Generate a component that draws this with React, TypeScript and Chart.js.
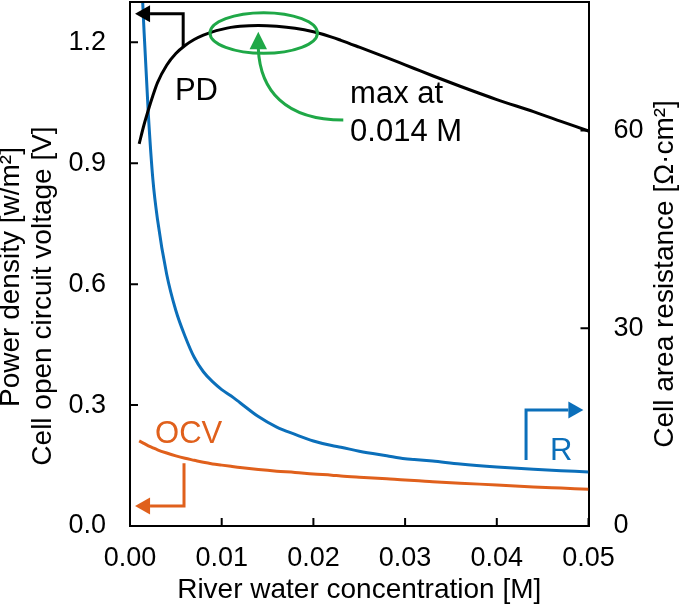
import React, { useEffect, useRef } from "react";
import { Chart, registerables } from "chart.js";

Chart.register(...registerables);

// ---- data ----
const concentration = [
  0.001, 0.0015, 0.002, 0.0025, 0.003, 0.004, 0.005, 0.006, 0.007, 0.008,
  0.009, 0.01, 0.011, 0.012, 0.014, 0.016, 0.018, 0.02, 0.022, 0.023,
  0.025, 0.028, 0.03, 0.031, 0.033, 0.036, 0.04, 0.044, 0.047, 0.05,
];
const powerDensity = [
  0.948, 0.993, 1.032, 1.068, 1.1, 1.143, 1.172, 1.192, 1.207, 1.218,
  1.226, 1.232, 1.237, 1.24, 1.242, 1.24, 1.235, 1.226, 1.213, 1.205,
  1.188, 1.162, 1.144, 1.135, 1.117, 1.091, 1.058, 1.028, 1.004, 0.98,
];
const resistance = [
  91, 76, 62.5, 52.5, 46.5, 38.2, 32.7, 28.8, 25.6, 23.4,
  21.9, 20.7, 19.75, 18.7, 16.6, 15.0, 13.9, 12.9, 12.2, 11.95,
  11.35, 10.65, 10.2, 10.1, 9.85, 9.4, 8.95, 8.6, 8.4, 8.2,
];
const openCircuitVoltage = [
  0.211, 0.205, 0.199, 0.194, 0.189, 0.181, 0.174, 0.168, 0.163, 0.158,
  0.154, 0.151, 0.148, 0.145, 0.14, 0.136, 0.133, 0.129, 0.126, 0.124,
  0.121, 0.117, 0.114, 0.113, 0.11, 0.106, 0.102, 0.097, 0.094, 0.091,
];
const xTicks = [0, 0.01, 0.02, 0.03, 0.04, 0.05];
const leftTicks = [0, 0.3, 0.6, 0.9, 1.2];
const rightTicks = [0, 30, 60];

const xTitle = "River water concentration [M]";
const leftTitles = ["Power density [w/m²]", "Cell open circuit voltage [V]"];
const rightTitle = "Cell area resistance [Ω·cm²]";

// ---- styles ----
const FONT = "'Liberation Sans', Arial, Helvetica, sans-serif";
const BLACK = "#000000";
const BLUE = "#0b6fba";
const ORANGE = "#e0601c";
const GREEN = "#1fa847";

// annotation anchors in data coordinates
const pdNote = { label: "PD", labelX: 0.0049, labelY: 1.057, barX: 0.0058, barFrom: 1.189, barTo: 1.271, tipX: 0.00055 };
const ocvNote = { label: "OCV", labelX: 0.00273, labelY: 0.2067, barX: 0.00589, barFrom: 0.1555, barTo: 0.0496, tipX: 0.00055 };
const rNote = { label: "R", labelX: 0.0458, labelY: 10.0, barX: 0.04319, barFrom: 10.0, barTo: 17.6, tipX: 0.04944 };
const maxNote = {
  lines: ["max at", "0.014 M"],
  textX: 0.024, line1Y: 1.049, line2Y: 0.956,
  ellipseX: 0.01458, ellipseY: 1.223, ellipseRx: 0.00586, ellipseRy: 0.0504,
  tipX: 0.01399, tipY: 1.226, baseY: 1.185,
  c1X: 0.01418, c1Y: 1.081, c2X: 0.0169, c2Y: 1.007, endX: 0.02326, endY: 1.007,
};

function arrowBracket(
  ctx: CanvasRenderingContext2D, color: string,
  sx: number, sy: number, cx: number, cy: number, tx: number,
  head = 15, half = 8.5
) {
  const dir = Math.sign(tx - cx);
  ctx.strokeStyle = color;
  ctx.fillStyle = color;
  ctx.lineWidth = 3;
  ctx.lineJoin = "miter";
  ctx.beginPath();
  ctx.moveTo(sx, sy);
  ctx.lineTo(cx, cy);
  ctx.lineTo(tx - dir * head, cy);
  ctx.stroke();
  ctx.beginPath();
  ctx.moveTo(tx, cy);
  ctx.lineTo(tx - dir * head, cy - half);
  ctx.lineTo(tx - dir * head, cy + half);
  ctx.closePath();
  ctx.fill();
}

const decorPlugin = {
  id: "decor",
  afterDraw(chart: any) {
    const ctx: CanvasRenderingContext2D = chart.ctx;
    const xs = chart.scales.x;
    const yl = chart.scales.yL;
    const yr = chart.scales.yR;
    const { left, right, top, bottom } = chart.chartArea;
    const px = (v: number) => xs.getPixelForValue(v);
    const pl = (v: number) => yl.getPixelForValue(v);
    const pr = (v: number) => yr.getPixelForValue(v);
    ctx.save();

    // frame top
    ctx.strokeStyle = BLACK;
    ctx.lineWidth = 2;
    ctx.beginPath();
    ctx.moveTo(left - 1, top);
    ctx.lineTo(right + 1, top);
    ctx.stroke();

    // inward tick marks
    const TL = 8;
    ctx.beginPath();
    xTicks.forEach((v) => {
      const p = px(v);
      ctx.moveTo(p, bottom);
      ctx.lineTo(p, bottom - TL);
    });
    leftTicks.forEach((v) => {
      const p = pl(v);
      ctx.moveTo(left, p);
      ctx.lineTo(left + TL, p);
    });
    rightTicks.forEach((v) => {
      const p = pr(v);
      ctx.moveTo(right, p);
      ctx.lineTo(right - TL, p);
    });
    ctx.stroke();

    // labels
    ctx.font = `31px ${FONT}`;
    ctx.textBaseline = "alphabetic";
    ctx.textAlign = "left";

    // PD
    arrowBracket(ctx, BLACK, px(pdNote.barX), pl(pdNote.barFrom), px(pdNote.barX), pl(pdNote.barTo), px(pdNote.tipX));
    ctx.fillStyle = BLACK;
    ctx.fillText(pdNote.label, px(pdNote.labelX), pl(pdNote.labelY));

    // OCV
    arrowBracket(ctx, ORANGE, px(ocvNote.barX), pl(ocvNote.barFrom), px(ocvNote.barX), pl(ocvNote.barTo), px(ocvNote.tipX));
    ctx.fillStyle = ORANGE;
    ctx.fillText(ocvNote.label, px(ocvNote.labelX), pl(ocvNote.labelY));

    // R
    arrowBracket(ctx, BLUE, px(rNote.barX), pr(rNote.barFrom), px(rNote.barX), pr(rNote.barTo), px(rNote.tipX));
    ctx.fillStyle = BLUE;
    ctx.fillText(rNote.label, px(rNote.labelX), pr(rNote.labelY));

    // max annotation
    ctx.fillStyle = BLACK;
    ctx.fillText(maxNote.lines[0], px(maxNote.textX), pl(maxNote.line1Y));
    ctx.fillText(maxNote.lines[1], px(maxNote.textX), pl(maxNote.line2Y));

    ctx.strokeStyle = GREEN;
    ctx.fillStyle = GREEN;
    ctx.lineWidth = 3;
    const ex = px(maxNote.ellipseX);
    const ey = pl(maxNote.ellipseY);
    const erx = px(maxNote.ellipseX + maxNote.ellipseRx) - ex;
    const ery = ey - pl(maxNote.ellipseY + maxNote.ellipseRy);
    ctx.beginPath();
    ctx.ellipse(ex, ey, erx, ery, 0, 0, Math.PI * 2);
    ctx.stroke();

    const bx = px(maxNote.tipX);
    const by = pl(maxNote.baseY);
    ctx.beginPath();
    ctx.moveTo(bx, by);
    ctx.bezierCurveTo(px(maxNote.c1X), pl(maxNote.c1Y), px(maxNote.c2X), pl(maxNote.c2Y), px(maxNote.endX), pl(maxNote.endY));
    ctx.stroke();
    const ty = pl(maxNote.tipY);
    ctx.beginPath();
    ctx.moveTo(bx, ty);
    ctx.lineTo(bx - 8.7, by + 1);
    ctx.lineTo(bx + 8.7, by + 1);
    ctx.closePath();
    ctx.fill();

    // y-axis titles (rotated, reading bottom to top)
    ctx.fillStyle = BLACK;
    ctx.font = `28px ${FONT}`;
    ctx.textAlign = "center";
    ctx.textBaseline = "middle";
    const drawRot = (t: string, cx: number, cy: number) => {
      ctx.save();
      ctx.translate(cx, cy);
      ctx.rotate(-Math.PI / 2);
      ctx.fillText(t, 0, 0);
      ctx.restore();
    };
    drawRot(leftTitles[0], 11, 277);
    drawRot(leftTitles[1], 43, 296);
    drawRot(rightTitle, 665.5, 274);

    ctx.restore();
  },
};

const noPad = (s: any) => {
  s.paddingTop = 0;
  s.paddingBottom = 0;
  s.paddingLeft = 0;
  s.paddingRight = 0;
};

export default function App() {
  const canvasRef = useRef<HTMLCanvasElement | null>(null);

  useEffect(() => {
    const canvas = canvasRef.current;
    if (!canvas) return;
    const tickFont = { size: 27, family: FONT, lineHeight: 1.2 };
    const border = { display: true, color: BLACK, width: 2 };
    const chart = new Chart(canvas, {
      type: "line",
      data: {
        datasets: [
          {
            label: "PD",
            data: concentration.map((c, i) => ({ x: c, y: powerDensity[i] })),
            borderColor: BLACK,
            borderWidth: 3,
            yAxisID: "yL",
            cubicInterpolationMode: "monotone",
            pointRadius: 0,
          },
          {
            label: "R",
            data: concentration.map((c, i) => ({ x: c, y: resistance[i] })),
            borderColor: BLUE,
            borderWidth: 3,
            yAxisID: "yR",
            cubicInterpolationMode: "monotone",
            pointRadius: 0,
          },
          {
            label: "OCV",
            data: concentration.map((c, i) => ({ x: c, y: openCircuitVoltage[i] })),
            borderColor: ORANGE,
            borderWidth: 3,
            yAxisID: "yL",
            cubicInterpolationMode: "monotone",
            pointRadius: 0,
          },
        ],
      },
      options: {
        responsive: false,
        animation: false,
        layout: { padding: { top: 2, left: 0, right: 0, bottom: 0 } },
        plugins: { legend: { display: false }, tooltip: { enabled: false } },
        scales: {
          x: {
            type: "linear",
            min: 0,
            max: 0.05,
            afterFit: (s: any) => { s.height = 80; noPad(s); },
            afterBuildTicks: (s: any) => { s.ticks = xTicks.map((v) => ({ value: v })); },
            grid: { display: false, drawTicks: false },
            border,
            ticks: {
              font: tickFont,
              color: BLACK,
              padding: 16,
              autoSkip: false,
              maxRotation: 0,
              callback: (v: any) => Number(v).toFixed(2),
            },
            title: {
              display: true,
              text: xTitle,
              color: BLACK,
              font: { size: 28, family: FONT, lineHeight: 32 / 28 },
              padding: { top: 0, bottom: 0 },
            },
          },
          yL: {
            type: "linear",
            position: "left",
            min: 0,
            max: 1.3,
            afterFit: (s: any) => { s.width = 130; noPad(s); },
            afterBuildTicks: (s: any) => { s.ticks = leftTicks.map((v) => ({ value: v })); },
            grid: { display: false, drawTicks: false },
            border,
            ticks: {
              font: tickFont,
              color: BLACK,
              padding: 24,
              callback: (v: any) => Number(v).toFixed(1),
            },
          },
          yR: {
            type: "linear",
            position: "right",
            min: 0,
            max: 79.5,
            afterFit: (s: any) => { s.width = 92.5; noPad(s); },
            afterBuildTicks: (s: any) => { s.ticks = rightTicks.map((v) => ({ value: v })); },
            grid: { display: false, drawTicks: false },
            border,
            ticks: {
              font: tickFont,
              color: BLACK,
              padding: 25,
              callback: (v: any) => String(v),
            },
          },
        },
      },
      plugins: [decorPlugin],
    } as any);
    return () => chart.destroy();
  }, []);

  return (
    <div style={{ position: "fixed", left: 0, top: 0, width: 681, height: 606, background: "#fff" }}>
      <canvas ref={canvasRef} width={681} height={606} style={{ display: "block" }} />
    </div>
  );
}
